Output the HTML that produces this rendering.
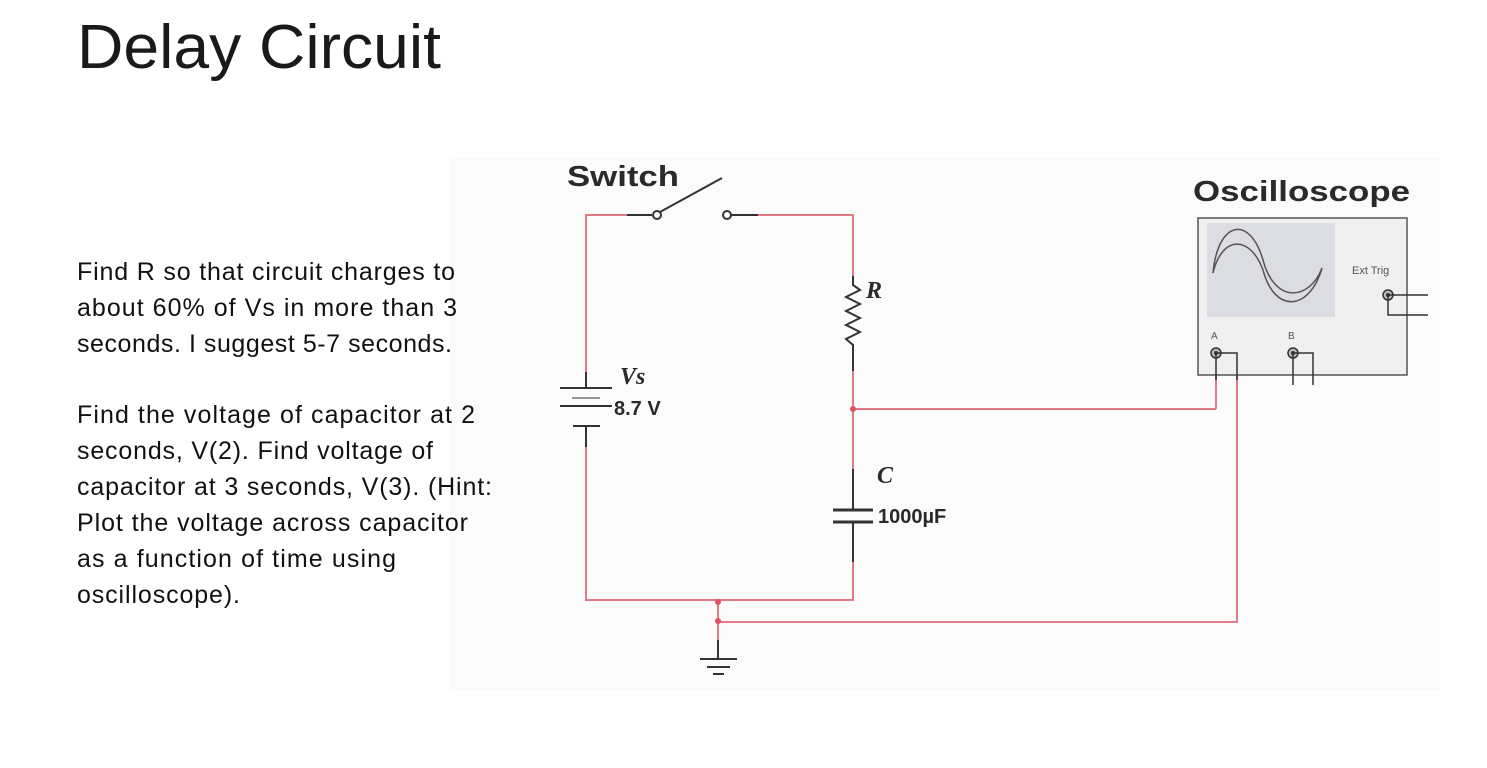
<!DOCTYPE html>
<html><head><meta charset="utf-8"><style>
html,body{margin:0;padding:0;background:#fff;width:1487px;height:768px;overflow:hidden}
</style></head><body>
<svg width="1487" height="768" viewBox="0 0 1487 768" xmlns="http://www.w3.org/2000/svg" font-family="Liberation Sans, sans-serif">
<rect x="450" y="158" width="990" height="532" fill="#fbfbfb"/>
<text x="77" y="68" font-size="62" fill="#1a1a1a" textLength="364" lengthAdjust="spacingAndGlyphs">Delay Circuit</text>
<g font-size="25" fill="#111" lengthAdjust="spacingAndGlyphs">
<text x="77" y="280" textLength="378">Find R so that circuit charges to</text>
<text x="77" y="316" textLength="380">about 60% of Vs in more than 3</text>
<text x="77" y="352" textLength="375">seconds. I suggest 5-7 seconds.</text>
<text x="77" y="423" textLength="398">Find the voltage of capacitor at 2</text>
<text x="77" y="459" textLength="356">seconds, V(2). Find voltage of</text>
<text x="77" y="495" textLength="415">capacitor at 3 seconds, V(3). (Hint:</text>
<text x="77" y="531" textLength="391">Plot the voltage across capacitor</text>
<text x="77" y="567" textLength="319">as a function of time using</text>
<text x="77" y="603" textLength="163">oscilloscope).</text>
</g>
<g stroke="#e07a84" stroke-width="2" fill="none">
<polyline points="627,215 586,215 586,372"/>
<polyline points="758,215 853,215 853,276"/>
<polyline points="853,371 853,469"/>
<polyline points="853,562 853,600 586,600 586,447"/>
<line x1="853" y1="409" x2="1216" y2="409"/>
<line x1="1216" y1="409" x2="1216" y2="358"/>
<polyline points="718,600 718,622 1237,622 1237,358"/>
<line x1="718" y1="622" x2="718" y2="640"/>
</g>
<g fill="#e05060"><circle cx="853" cy="409" r="3"/><circle cx="718" cy="602" r="3"/><circle cx="718" cy="621" r="3"/></g>
<g stroke="#333" stroke-width="2" fill="none">
<line x1="627" y1="215" x2="652" y2="215"/>
<circle cx="657" cy="215" r="4" fill="#fff"/>
<line x1="660" y1="212" x2="722" y2="178"/>
<circle cx="727" cy="215" r="4" fill="#fff"/>
<line x1="731" y1="215" x2="758" y2="215"/>
<polyline points="853,276 853,285 860,290 846,297 860,304 846,311 860,318 846,325 860,332 846,339 853,345 853,371"/>
<line x1="586" y1="372" x2="586" y2="388"/>
<line x1="560" y1="388" x2="612" y2="388"/>
<line x1="572" y1="398" x2="600" y2="398" stroke-width="1"/>
<line x1="560" y1="406" x2="612" y2="406"/>
<line x1="573" y1="426" x2="600" y2="426"/>
<line x1="586" y1="426" x2="586" y2="447"/>
<line x1="853" y1="469" x2="853" y2="510"/>
<line x1="833" y1="510" x2="873" y2="510" stroke-width="3"/>
<line x1="833" y1="522" x2="873" y2="522" stroke-width="3"/>
<line x1="853" y1="522" x2="853" y2="562"/>
<line x1="718" y1="640" x2="718" y2="659"/>
<line x1="700" y1="659" x2="737" y2="659"/>
<line x1="707" y1="667" x2="730" y2="667"/>
<line x1="713" y1="674" x2="724" y2="674"/>
</g>
<g font-weight="bold" fill="#2a2a2a">
<text x="567" y="186" font-size="29" textLength="112" lengthAdjust="spacingAndGlyphs">Switch</text>
<text x="614" y="415" font-size="20">8.7 V</text>
<text x="878" y="523" font-size="20">1000µF</text>
<text x="1193" y="201" font-size="29" textLength="217" lengthAdjust="spacingAndGlyphs">Oscilloscope</text>
</g>
<g font-family="Liberation Serif, serif" font-style="italic" font-weight="bold" fill="#2a2a2a" font-size="24">
<text x="866" y="298">R</text>
<text x="620" y="384">Vs</text>
<text x="877" y="483">C</text>
</g>
<rect x="1198" y="218" width="209" height="157" fill="#f0f0f0" stroke="#555" stroke-width="1.5"/>
<rect x="1207" y="223" width="128" height="94" fill="#dcdde2"/>
<g stroke="#555" stroke-width="1.5" fill="none">
<path d="M1213,273 C1218,220 1250,215 1263,260 C1275,305 1310,300 1322,268"/>
<path d="M1213,273 C1222,235 1250,235 1263,270 C1275,315 1310,310 1322,268"/>
</g>
<text x="1352" y="274" font-size="11" fill="#555">Ext Trig</text>
<text x="1211" y="339" font-size="10" fill="#555">A</text>
<text x="1288" y="339" font-size="10" fill="#555">B</text>
<g stroke="#333" stroke-width="1.5" fill="none">
<circle cx="1216" cy="353" r="5" fill="#bbb"/><circle cx="1293" cy="353" r="5" fill="#bbb"/><circle cx="1388" cy="295" r="5" fill="#bbb"/>
<polyline points="1216,353 1237,353 1237,380"/>
<line x1="1216" y1="353" x2="1216" y2="380"/>
<polyline points="1293,353 1313,353 1313,385"/>
<line x1="1293" y1="353" x2="1293" y2="385"/>
<line x1="1388" y1="295" x2="1428" y2="295"/>
<polyline points="1388,295 1388,315 1428,315"/>
</g>
<g fill="#333"><circle cx="1216" cy="353" r="2"/><circle cx="1293" cy="353" r="2"/><circle cx="1388" cy="295" r="2"/></g>
</svg>
</body></html>
